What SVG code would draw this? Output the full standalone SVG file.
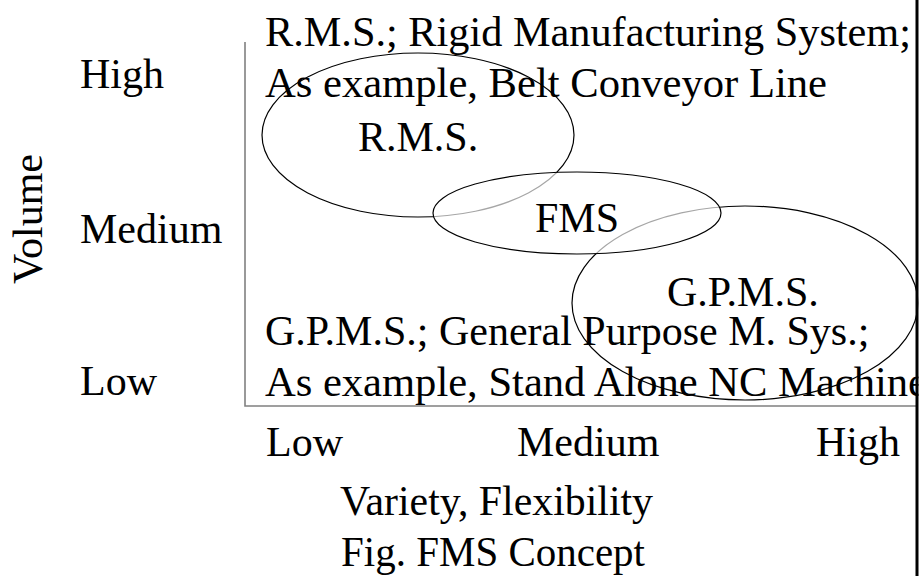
<svg xmlns="http://www.w3.org/2000/svg" width="922" height="576" viewBox="0 0 922 576">
<style>
text{font-family:"Liberation Serif","Times New Roman",serif;font-size:42px;fill:#000}
.ell{stroke:#000;stroke-width:1.2}
.axis{stroke:#808080;stroke-width:1.6;fill:none}
</style>
<rect width="922" height="576" fill="#fff"/>
<g id="axes">
<polyline class="axis" points="245,42 245,406 916,406"/>
</g>
<g id="labels">
<text x="265" y="46" textLength="646" lengthAdjust="spacingAndGlyphs">R.M.S.; Rigid Manufacturing System;</text>
<text x="265" y="97" textLength="562" lengthAdjust="spacingAndGlyphs">As example, Belt Conveyor Line</text>
<text x="265" y="345">G.P.M.S.; General Purpose M. Sys.;</text>
<text x="265" y="396" textLength="662" lengthAdjust="spacingAndGlyphs">As example, Stand Alone NC Machine</text>
<text x="80" y="88">High</text>
<text x="80" y="243">Medium</text>
<text x="80" y="395">Low</text>
<text transform="translate(42,219) rotate(-90)" text-anchor="middle">Volume</text>
<text x="266" y="456">Low</text>
<text x="517" y="456">Medium</text>
<text x="816" y="456">High</text>
<text x="340" y="515" textLength="313" lengthAdjust="spacingAndGlyphs">Variety, Flexibility</text>
<text x="341" y="566" textLength="304" lengthAdjust="spacingAndGlyphs">Fig. FMS Concept</text>
</g>
<g id="rms">
<ellipse class="ell" cx="418" cy="135" rx="156" ry="82" fill="none"/>
<text x="358" y="151">R.M.S.</text>
</g>
<g id="gpms">
<ellipse class="ell" cx="745" cy="303" rx="173" ry="97" fill="none"/>
<text x="667" y="306">G.P.M.S.</text>
</g>
<g id="fms">
<ellipse class="ell" cx="577" cy="213" rx="144" ry="41" fill="#fff" fill-opacity="0.65"/>
<text x="535" y="232">FMS</text>
</g>
<g id="border">
<rect x="918.5" y="0" width="3.5" height="576" fill="#fff"/>
<line x1="917" y1="0" x2="917" y2="576" stroke="#000" stroke-width="3"/>
</g>
</svg>
